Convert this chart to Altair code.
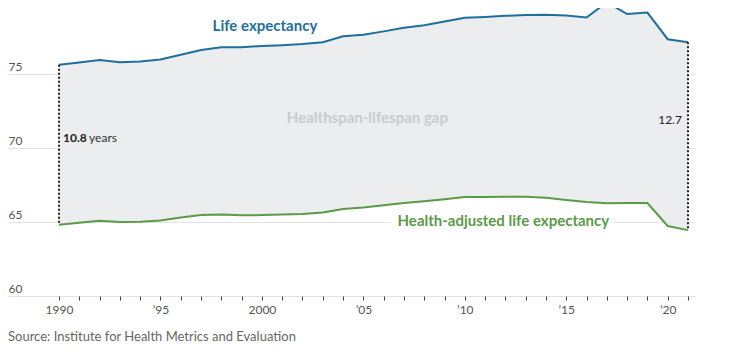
import altair as alt
import pandas as pd

years = list(range(1990, 2022))
life_exp = [75.62, 75.78, 75.95, 75.80, 75.85, 75.98, 76.30, 76.62, 76.80, 76.80,
            76.90, 76.95, 77.02, 77.15, 77.55, 77.65, 77.88, 78.12, 78.30, 78.55,
            78.80, 78.85, 78.93, 78.98, 79.00, 78.95, 78.82, 79.85, 79.05, 79.15,
            77.35, 77.15]
hale = [64.82, 64.95, 65.08, 65.00, 65.02, 65.10, 65.30, 65.47, 65.50, 65.45,
        65.47, 65.50, 65.54, 65.65, 65.88, 65.98, 66.13, 66.28, 66.40, 66.53,
        66.69, 66.69, 66.71, 66.71, 66.64, 66.49, 66.35, 66.26, 66.28, 66.28,
        64.73, 64.45]

y_ticks = [60, 65, 70, 75]
source_text = "Source: Institute for Health Metrics and Evaluation"

df = pd.DataFrame({"year": years, "le": life_exp, "hale": hale})
ends = df[df["year"].isin([1990, 2021])]

FONT = "Lato"
xs = alt.Scale(domain=[1987.486, 2021.345], nice=False, zero=False)
ys = alt.Scale(domain=[60, 79.46], nice=False, zero=False)

x_axis = alt.Axis(values=years, grid=False, domain=False, ticks=True, tickSize=4,
                  tickColor="#444444", tickWidth=1, labelPadding=4, labelOverlap=False,
                  labelExpr="datum.value % 5 == 0 ? ((datum.value == 1990 || datum.value == 2000) ? toString(datum.value) : \"\u2019\" + substring(toString(datum.value), 2, 4)) : ''",
                  labelFont=FONT, labelFontSize=12, labelColor="#555555", title=None,
                  labelFlush=False)
y_axis = alt.Axis(values=y_ticks, grid=True, gridColor="#e2e2e2", gridWidth=1,
                  domain=False, ticks=False, labelAlign="left", labelPadding=0,
                  labelBaseline="alphabetic", labelOffset=-4, labelFont=FONT,
                  labelFontSize=12, labelColor="#555555", title=None)

X = lambda f: alt.X(f, scale=xs, axis=x_axis)
Y = lambda f: alt.Y(f, scale=ys, axis=y_axis)

base = alt.Chart(df)

area = base.mark_area(color="#ebedef", opacity=1).encode(
    x=X("year:Q"), y=Y("le:Q"), y2="hale:Q")

white_gap = alt.Chart(pd.DataFrame({"x": [2006.4], "x2": [2017.3], "y": [65]})).mark_rule(
    color="white", strokeWidth=4
).encode(x=X("x:Q"), x2="x2:Q", y=Y("y:Q"))

le_line = base.mark_line(color="#1f6f9c", strokeWidth=2).encode(x=X("year:Q"), y=Y("le:Q"))
hale_line = base.mark_line(color="#5a9a48", strokeWidth=2).encode(x=X("year:Q"), y=Y("hale:Q"))

dots = alt.Chart(ends).mark_rule(color="#222222", strokeWidth=2, strokeDash=[2, 2]).encode(
    x=X("year:Q"), y=Y("le:Q"), y2="hale:Q")

labels = pd.DataFrame({
    "x": [2000.15, 2005.2, 2011.9],
    "y": [78.24, 72.03, 65.07],
    "t": ["Life expectancy", "Healthspan-lifespan gap", "Health-adjusted life expectancy"],
    "c": ["#1f6f9c", "#c9cbce", "#5a9a48"],
})
label_marks = alt.Chart(labels).mark_text(font=FONT, fontSize=15, fontWeight="bold",
                                          baseline="middle", align="center").encode(
    x=X("x:Q"), y=Y("y:Q"), text="t:N", color=alt.Color("c:N", scale=None))

gap1 = alt.Chart(pd.DataFrame({"x": [1990.2], "y": [70.68], "t": ["10.8"]})).mark_text(
    font=FONT, fontSize=12, fontWeight="bold", align="left", baseline="middle", color="#222222"
).encode(x=X("x:Q"), y=Y("y:Q"), text="t:N")
gap1b = alt.Chart(pd.DataFrame({"x": [1990.2], "y": [70.68], "t": ["years"]})).mark_text(
    font=FONT, fontSize=12, align="left", baseline="middle", color="#333333", dx=26
).encode(x=X("x:Q"), y=Y("y:Q"), text="t:N")
gap2 = alt.Chart(pd.DataFrame({"x": [2020.7], "y": [71.9], "t": ["12.7"]})).mark_text(
    font=FONT, fontSize=12, align="right", baseline="middle", color="#222222"
).encode(x=X("x:Q"), y=Y("y:Q"), text="t:N")

src = alt.Chart(pd.DataFrame({"t": [source_text]})).mark_text(
    font=FONT, fontSize=13, align="left", baseline="middle", color="#666666"
).encode(x=alt.value(0), y=alt.value(329), text="t:N")

chart = alt.layer(area, white_gap, le_line, hale_line, dots, label_marks, gap1, gap1b, gap2, src).properties(
    width=687, height=288,
    autosize=alt.AutoSizeParams(type="none"),
    padding={"left": 0, "top": 0, "right": 30, "bottom": 50},
).configure_view(stroke=None)

chart.save("out.html", embed_options={"renderer": "svg", "actions": False})
